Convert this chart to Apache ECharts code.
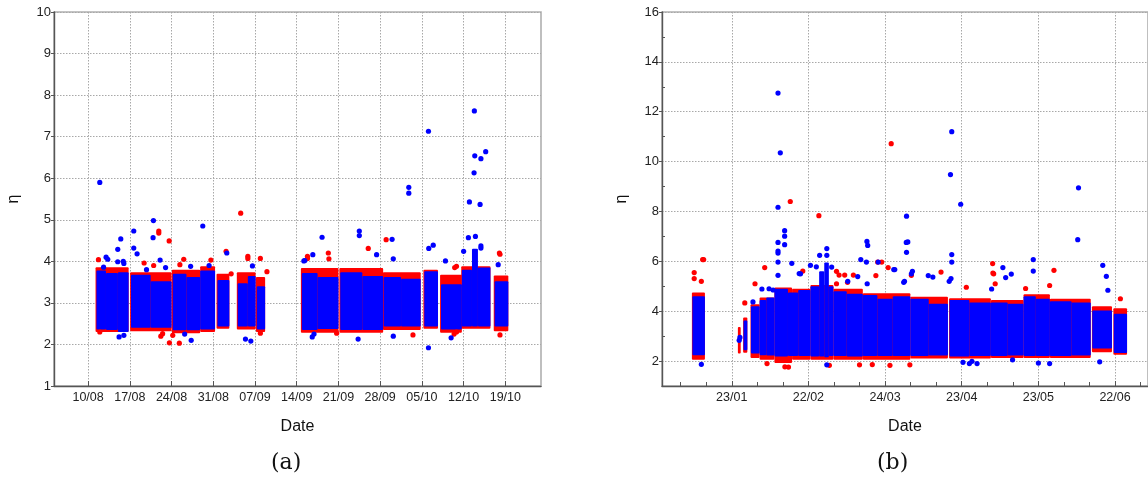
<!DOCTYPE html>
<html><head><meta charset="utf-8">
<script src="https://cdn.jsdelivr.net/npm/echarts@6/dist/echarts.min.js"></script>
<style>html,body{margin:0;padding:0;background:#fff}#c{width:1148px;height:483px}</style>
</head><body><div id="c"></div>
<script>
// ---------- Panel (a): x = days after 10/08 ----------
const tickDaysA = [0, 7, 14, 21, 28, 35, 42, 49, 56, 63, 70];
const tickLabelsA = ['10/08','17/08','24/08','31/08','07/09','14/09','21/09','28/09','05/10','12/10','19/10'];
const yTicksA = [1,2,3,4,5,6,7,8,9,10];

// dense clusters: [startDay, endDay, low, high]
const blueBandA = [
  [1.4,3.0,2.36,3.78],[3.0,5.0,2.35,3.72],[5.0,6.8,2.30,3.74],
  [7.2,10.5,2.40,3.68],[10.5,14.0,2.40,3.52],
  [14.2,16.5,2.34,3.70],[16.5,18.8,2.34,3.62],
  [18.8,21.3,2.36,3.78],[21.7,23.7,2.43,3.55],
  [25.1,26.8,2.43,3.47],[26.8,28.1,2.43,3.65],[28.3,29.7,2.36,3.40],
  [35.85,38.5,2.35,3.72],[38.5,42.0,2.37,3.62],
  [42.3,46.0,2.35,3.74],[46.0,49.5,2.35,3.65],
  [49.6,52.5,2.43,3.62],[52.5,55.8,2.43,3.58],
  [56.4,58.7,2.43,3.76],[59.2,62.7,2.36,3.45],
  [62.7,64.4,2.43,3.80],[64.4,65.4,2.43,4.30],[65.4,67.5,2.43,3.85],
  [68.2,70.5,2.43,3.52]
];
const redBandA = [
  [1.25,6.8,2.30,3.86],[7.05,14.0,2.32,3.74],[14.05,18.8,2.27,3.80],
  [18.8,21.3,2.30,3.88],[21.55,23.7,2.38,3.70],[24.95,28.1,2.36,3.74],
  [28.15,29.7,2.30,3.62],[35.7,42.0,2.28,3.84],[42.15,49.5,2.28,3.84],
  [49.45,55.8,2.35,3.74],[56.25,58.7,2.38,3.80],[59.05,62.7,2.28,3.68],
  [62.6,67.5,2.38,3.88],[68.05,70.5,2.32,3.66]
];
const blueOutA = [
  [1.96,5.90],[10.96,4.98],[10.9,4.57],[7.66,4.73],[7.66,4.32],[8.22,4.18],[5.48,4.54],
  [4.98,4.29],[3.02,4.10],[3.3,4.05],[4.97,3.99],[5.9,4.0],[6.0,3.95],[12.08,4.03],
  [19.24,4.85],[23.27,4.20],[27.57,3.89],[5.2,2.18],[17.3,2.10],[26.4,2.13],[27.3,2.08],
  [36.2,4.01],[64.8,7.62],[57.1,7.13],[66.7,6.64],[64.87,6.54],[65.9,6.47],[64.75,6.13],
  [63.97,5.43],[65.76,5.37],[53.8,5.78],[53.8,5.64],[39.25,4.58],[45.5,4.73],[45.5,4.62],
  [51.0,4.53],[57.15,4.31],[57.9,4.39],[63.0,4.24],[63.8,4.57],[64.98,4.60],[65.9,4.37],
  [65.9,4.32],[48.4,4.16],[51.2,4.06],[59.95,4.01],[68.8,3.92],[36.35,4.02],[37.7,4.16],
  [57.1,1.92],[45.3,2.13],[51.2,2.20],[60.9,2.16],[37.6,2.18],[37.9,2.25],
  [2.6,3.86],[9.8,3.80],[13.0,3.85],[17.2,3.88],[20.3,3.90],[6.0,2.22],[16.2,2.25]
];
const redOutA = [
  [25.6,5.16],[11.86,4.73],[11.86,4.68],[13.6,4.49],[23.15,4.24],[26.8,4.12],[26.8,4.07],
  [28.9,4.07],[1.74,4.04],[16.05,4.05],[20.6,4.03],[9.4,3.96],[13.64,2.04],[15.3,2.03],
  [12.2,2.20],[12.5,2.26],[14.2,2.22],[28.9,2.27],[1.96,2.30],[50.0,4.52],[47.0,4.31],
  [40.3,4.20],[69.0,4.20],[69.1,4.17],[40.4,4.06],[61.5,3.85],[61.8,3.88],[36.8,4.12],
  [36.8,4.07],[69.1,2.23],[54.5,2.23],[41.7,2.27],[61.4,2.25],[61.8,2.30],
  [11.0,3.90],[15.4,3.92],[24.0,3.70],[30.0,3.75]
];

// ---------- Panel (b): x = days after 23/01 ----------
const tickDaysB = [0, 30, 60, 90, 120, 150];
const tickLabelsB = ['23/01','22/02','24/03','23/04','23/05','22/06'];
const minorDaysB = [-20,-10,10,20,40,50,70,80,100,110,130,140,160];
const yTicksB = [2,4,6,8,10,12,14,16];
const yMinorB = [3,5,7,9,11,13,15];

const blueBandB = [
  [-15.4,-10.5,2.23,4.60],[4.6,6.1,2.43,3.63],[7.5,10.9,2.30,4.20],
  [10.9,13.5,2.23,4.45],[13.5,16.7,2.22,4.55],[16.7,22.0,2.18,4.90],
  [22.0,26.0,2.20,4.75],[26.0,30.8,2.20,4.85],[30.8,34.2,2.18,5.00],
  [34.2,36.2,2.18,5.60],[36.2,38.0,2.15,5.95],[38.0,39.8,2.20,5.00],
  [39.8,45.0,2.20,4.80],[45.0,51.3,2.18,4.70],[51.3,57.0,2.20,4.65],
  [57.0,63.0,2.20,4.50],[63.0,69.9,2.20,4.60],[69.9,77.1,2.20,4.50],
  [77.1,84.6,2.22,4.30],[85.2,93.0,2.18,4.45],[93.0,101.4,2.20,4.35],
  [101.4,108.0,2.20,4.35],[108.0,114.2,2.22,4.30],[114.2,119.0,2.20,4.60],
  [119.0,124.5,2.20,4.50],[124.5,133.0,2.20,4.40],[133.0,140.5,2.22,4.35],
  [141.1,148.8,2.50,4.03],[149.5,154.7,2.32,3.90]
];
const redBandB = [
  [-15.6,-10.5,2.05,4.75],[2.4,3.5,2.30,3.37],[4.45,6.1,2.33,3.75],
  [7.35,10.9,2.12,4.28],[10.9,16.7,2.05,4.55],[16.7,23.6,1.92,4.95],
  [23.6,30.8,2.05,4.90],[30.8,39.8,2.05,5.05],[39.8,51.3,2.05,4.90],
  [51.3,69.9,2.05,4.72],[69.9,84.6,2.10,4.58],[85.05,101.4,2.10,4.52],
  [101.4,114.2,2.12,4.45],[114.2,124.5,2.12,4.68],[124.5,140.5,2.12,4.50],
  [140.95,148.8,2.35,4.20],[149.35,154.7,2.25,4.12]
];
const blueOutB = [
  [18.1,12.75],[19.0,10.35],[18.1,8.17],[20.7,7.23],[20.7,7.01],[20.7,6.67],[18.1,6.76],
  [18.1,6.41],[18.1,6.33],[18.1,5.97],[18.1,5.44],[23.5,5.92],[26.4,5.51],[30.8,5.84],
  [34.4,6.24],[37.2,6.51],[37.2,6.24],[33.1,5.78],[39.1,5.77],[50.5,6.07],[52.9,6.80],
  [53.2,6.64],[52.7,5.97],[57.3,5.97],[63.4,5.67],[11.8,4.89],[8.3,4.37],[-11.9,1.87],
  [37.2,1.85],[86.1,11.2],[85.6,9.48],[89.6,8.29],[135.7,8.95],[135.4,6.87],[86.1,6.27],
  [86.1,5.97],[85.8,5.31],[118.0,6.07],[118.0,5.61],[68.4,7.81],[68.3,6.76],[68.9,6.78],
  [68.4,6.36],[63.8,5.67],[70.7,5.60],[67.6,5.20],[76.9,5.43],[78.7,5.37],[106.1,5.75],
  [107.2,5.35],[109.4,5.49],[101.7,4.89],[145.2,5.84],[146.6,5.40],[147.2,4.84],
  [144.0,1.97],[120.0,1.92],[90.5,1.95],[93.0,1.90],[26.9,5.50],[49.3,5.39],[53.0,5.10],
  [67.3,5.16],[45.4,5.20],[14.6,4.90],[16.2,4.85],[85.1,5.20],[70.3,5.50],[94.0,1.99],
  [96.0,1.90],[124.4,1.90],[109.9,2.05],[2.9,2.83],[3.2,2.95]
];
const redOutB = [
  [62.4,10.72],[22.9,8.40],[34.1,7.83],[12.9,5.75],[27.8,5.61],[58.7,5.97],[57.1,5.97],
  [61.2,5.75],[5.1,4.33],[9.1,5.10],[-14.7,5.55],[-14.7,5.31],[-11.4,6.07],[-11.0,6.07],
  [-11.9,5.20],[41.0,5.60],[44.2,5.45],[42.0,5.45],[47.6,5.45],[20.8,1.77],[81.9,5.57],
  [102.1,5.91],[102.2,5.53],[103.1,5.10],[126.1,5.64],[124.4,5.03],[115.0,4.91],
  [152.1,4.50],[70.3,5.44],[41.0,5.10],[56.4,5.43],[45.3,5.16],[102.5,5.50],[91.8,4.96],
  [13.8,1.90],[22.2,1.76],[38.2,1.83],[61.9,1.83],[69.7,1.85],[50.0,1.85],[55.0,1.86]
];

const BLUE = '#0000ff', RED = '#ff0000';
const FONT = 'Liberation Sans';

function bandRender(color) {
  return function (params, api) {
    const a = api.coord([api.value(0), api.value(3)]);
    const b = api.coord([api.value(1), api.value(2)]);
    return { type: 'rect',
      shape: { x: a[0], y: a[1], width: b[0] - a[0], height: b[1] - a[1], r: 1 },
      style: { fill: color } };
  };
}
function labelFrom(days, labels) {
  return v => { const i = days.indexOf(Math.round(v)); return i >= 0 ? labels[i] : ''; };
}
const gridLine = { show: true, lineStyle: { color: '#a8a8a8', width: 1, type: [1.5, 1.5] } };
const axisLine = { show: true, onZero: false, lineStyle: { color: '#555', width: 1.4 } };

function xMain(grid, min, max, days, labels) {
  return { type: 'value', gridIndex: grid, position: 'bottom', min, max, axisLine,
    axisTick: { show: true, inside: true, length: 5, customValues: days, lineStyle: { color: '#555' } },
    axisLabel: { customValues: days, formatter: labelFrom(days, labels), margin: 5,
      fontFamily: FONT, fontSize: 12.5, color: '#222' },
    splitLine: gridLine,
    name: 'Date', nameLocation: 'middle', nameGap: 33,
    nameTextStyle: { fontFamily: FONT, fontSize: 16, color: '#111' } };
}
function yMain(grid, min, max, ticks) {
  return { type: 'value', gridIndex: grid, position: 'left', min, max, axisLine,
    axisTick: { show: true, inside: false, length: 3, customValues: ticks, lineStyle: { color: '#555' } },
    axisLabel: { customValues: ticks, margin: 3, fontFamily: FONT, fontSize: 13, color: '#222' },
    splitLine: gridLine,
    name: 'η', nameLocation: 'middle', nameGap: 32,
    nameTextStyle: { fontFamily: FONT, fontSize: 16, color: '#111' } };
}
function scatter(xi, data, color) {
  return { type: 'scatter', xAxisIndex: xi, yAxisIndex: xi, data, symbolSize: 5.2,
    itemStyle: { color, opacity: 1 } };
}
function band(xi, data, color) {
  return { type: 'custom', xAxisIndex: xi, yAxisIndex: xi, renderItem: bandRender(color),
    data, encode: { x: [0, 1], y: [2, 3] } };
}

const chart = echarts.init(document.getElementById('c'), null, { renderer: 'canvas' });
chart.setOption({
  animation: false,
  backgroundColor: '#fff',
  grid: [
    { left: 54, top: 12, width: 487, height: 374, show: true, borderColor: '#b0b0b0', borderWidth: 1.6, backgroundColor: 'transparent' },
    { left: 662, top: 12, width: 495, height: 374, show: true, borderColor: '#b0b0b0', borderWidth: 1.6, backgroundColor: 'transparent' }
  ],
  xAxis: [
    xMain(0, -5.72, 75.98, tickDaysA, tickLabelsA),
    xMain(1, -27.3, 162.9, tickDaysB, tickLabelsB),
    { type: 'value', gridIndex: 1, position: 'bottom', min: -27.3, max: 162.9,
      axisLine: { show: false, onZero: false },
      axisTick: { show: true, inside: true, length: 4, customValues: minorDaysB, lineStyle: { color: '#555' } },
      axisLabel: { show: false }, splitLine: { show: false } }
  ],
  yAxis: [
    yMain(0, 1, 10, yTicksA),
    yMain(1, 1, 16, yTicksB),
    { type: 'value', gridIndex: 1, position: 'left', min: 1, max: 16,
      axisLine: { show: false, onZero: false },
      axisTick: { show: true, inside: true, length: 3, customValues: yMinorB, lineStyle: { color: '#555' } },
      axisLabel: { show: false }, splitLine: { show: false } }
  ],
  series: [
    band(0, redBandA, RED), band(0, blueBandA, BLUE),
    scatter(0, redOutA, RED), scatter(0, blueOutA, BLUE),
    band(1, redBandB, RED), band(1, blueBandB, BLUE),
    scatter(1, redOutB, RED), scatter(1, blueOutB, BLUE)
  ],
  graphic: [
    { type: 'text', left: 271, top: 452, style: { text: '(a)', font: '22px "DejaVu Serif"', fill: '#111' } },
    { type: 'text', left: 877, top: 452, style: { text: '(b)', font: '22px "DejaVu Serif"', fill: '#111' } }
  ]
});
</script></body></html>
